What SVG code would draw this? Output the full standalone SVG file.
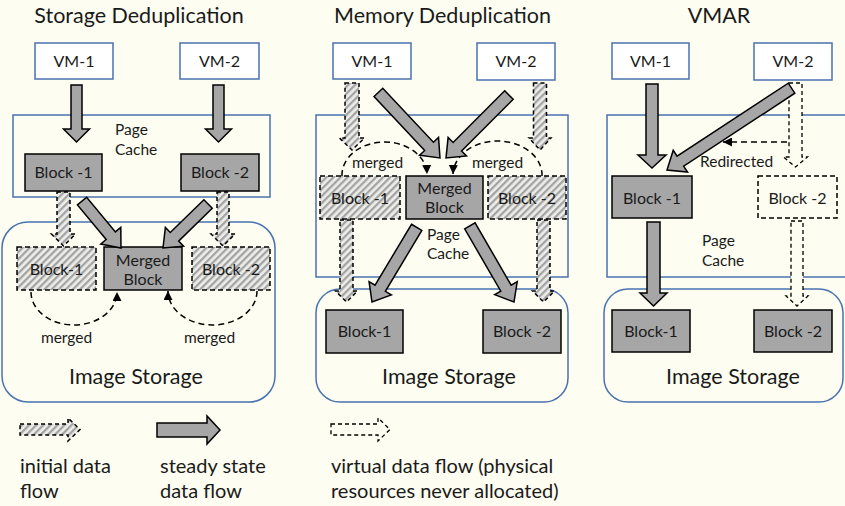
<svg xmlns="http://www.w3.org/2000/svg" width="845" height="506" viewBox="0 0 845 506">
<defs>
<pattern id="hatch" patternUnits="userSpaceOnUse" width="5" height="5" patternTransform="rotate(45)">
<rect width="5" height="5" fill="#EDEDEA"/>
<line x1="1.2" y1="0" x2="1.2" y2="5" stroke="#A0A0A0" stroke-width="2.2"/>
</pattern>
<marker id="ah" viewBox="0 0 10 10" refX="10" refY="5" markerWidth="9" markerHeight="9" markerUnits="userSpaceOnUse" orient="auto">
<path d="M0,0 L10,5 L0,10 Z" fill="#000"/>
</marker>
</defs>
<style>
text{font-family:Lato,"Open Sans","Liberation Sans",sans-serif;fill:#1a1a1a}
.title{font-size:21.5px;text-anchor:middle}
.big{font-size:21.5px;text-anchor:middle}
.lbl{font-size:16px;text-anchor:middle}
.sm{font-size:15.5px}
.mid{text-anchor:middle}
.leg{font-size:20px}
.vm{fill:#fff;stroke:#4A72B0;stroke-width:1.5}
.pc{fill:none;stroke:#4A72B0;stroke-width:1.5}
.is{fill:none;stroke:#4A72B0;stroke-width:1.5}
.blk{fill:#A6A6A6;stroke:#000;stroke-width:1.5}
.hblk{fill:url(#hatch);stroke:#000;stroke-width:1.5;stroke-dasharray:5 3}
.vblk{fill:none;stroke:#000;stroke-width:1.5;stroke-dasharray:5 3}
.sa{fill:#A6A6A6;stroke:#000;stroke-width:1.5;stroke-linejoin:miter}
.ha{fill:url(#hatch);stroke:#000;stroke-width:1.5;stroke-dasharray:4 3}
.va{fill:#FDFDF1;stroke:#000;stroke-width:1.3;stroke-dasharray:4 3}
.arc{fill:none;stroke:#000;stroke-width:1.5;stroke-dasharray:6 4}
</style>
<rect width="845" height="506" fill="#FDFDF1"/>

<!-- Titles -->
<text class="title" x="139" y="23">Storage Deduplication</text>
<text class="title" x="442.5" y="23">Memory Deduplication</text>
<text class="title" x="719" y="23">VMAR</text>

<!-- Panel 1 containers -->
<g id="p1-pagecache"><rect class="pc" x="13" y="115" width="257" height="82"/><text class="sm" x="115" y="135">Page</text><text class="sm" x="115" y="155">Cache</text></g>
<g id="p1-storage"><rect class="is" x="2" y="222" width="273" height="180" rx="26"/><text class="big" x="136" y="384">Image Storage</text></g>
<g id="p1-vm1"><rect class="vm" x="35" y="43" width="78" height="36"/><text class="lbl" x="74" y="67">VM-1</text></g>
<g id="p1-vm2"><rect class="vm" x="180" y="43" width="79" height="36"/><text class="lbl" x="219.5" y="67">VM-2</text></g>
<g id="p1-block1"><rect class="blk" x="25" y="154" width="77" height="37"/><text class="lbl" x="63.5" y="178">Block -1</text></g>
<g id="p1-block2"><rect class="blk" x="181" y="154" width="78" height="37"/><text class="lbl" x="220" y="178">Block -2</text></g>
<g id="p1-sblock1"><rect class="hblk" x="17" y="247" width="79" height="43"/><text class="lbl" x="56.5" y="275">Block-1</text></g>
<g id="p1-merged"><rect class="blk" x="104" y="247" width="78" height="43"/><text class="lbl" x="143" y="266">Merged</text><text class="lbl" x="143" y="285">Block</text></g>
<g id="p1-sblock2"><rect class="hblk" x="192" y="247" width="78" height="43"/><text class="lbl" x="231" y="275">Block -2</text></g>

<!-- Panel 2 containers -->
<g id="p2-pagecache"><rect class="pc" x="316" y="115" width="252" height="162"/><text class="sm" x="427" y="240">Page</text><text class="sm" x="427" y="259">Cache</text></g>
<g id="p2-storage"><rect class="is" x="316" y="289" width="252" height="113" rx="24"/><text class="big" x="449" y="384">Image Storage</text></g>
<g id="p2-vm1"><rect class="vm" x="333" y="43" width="78" height="36"/><text class="lbl" x="372" y="67">VM-1</text></g>
<g id="p2-vm2"><rect class="vm" x="477" y="43" width="78" height="37"/><text class="lbl" x="516" y="67">VM-2</text></g>
<g id="p2-hblock1"><rect class="hblk" x="320" y="176" width="80" height="43"/><text class="lbl" x="360" y="204">Block -1</text></g>
<g id="p2-merged"><rect class="blk" x="406" y="176" width="77" height="43"/><text class="lbl" x="444.5" y="194">Merged</text><text class="lbl" x="444.5" y="213">Block</text></g>
<g id="p2-hblock2"><rect class="hblk" x="488" y="176" width="78" height="43"/><text class="lbl" x="527" y="204">Block -2</text></g>
<g id="p2-sblock1"><rect class="blk" x="326" y="310" width="77" height="43"/><text class="lbl" x="364.5" y="337">Block-1</text></g>
<g id="p2-sblock2"><rect class="blk" x="483" y="310" width="78" height="43"/><text class="lbl" x="522" y="337">Block -2</text></g>

<!-- Panel 3 containers -->
<g id="p3-pagecache"><rect class="pc" x="607" y="115" width="245" height="162"/><text class="sm" x="702" y="246">Page</text><text class="sm" x="702" y="266">Cache</text></g>
<g id="p3-storage"><rect class="is" x="604" y="289" width="239" height="113" rx="24"/><text class="big" x="733" y="384">Image Storage</text></g>
<g id="p3-vm1"><rect class="vm" x="612" y="43" width="77" height="36"/><text class="lbl" x="650.5" y="67">VM-1</text></g>
<g id="p3-vm2"><rect class="vm" x="754" y="43" width="78" height="37"/><text class="lbl" x="793" y="67">VM-2</text></g>
<g id="p3-block1"><rect class="blk" x="612" y="176" width="80" height="42"/><text class="lbl" x="652" y="204">Block -1</text></g>
<g id="p3-block2"><rect class="vblk" x="758" y="176" width="79" height="42"/><text class="lbl" x="797.5" y="204">Block -2</text></g>
<g id="p3-sblock1"><rect class="blk" x="612" y="310" width="78" height="42"/><text class="lbl" x="651" y="337">Block-1</text></g>
<g id="p3-sblock2"><rect class="blk" x="754" y="310" width="78" height="42"/><text class="lbl" x="793" y="337">Block -2</text></g>

<!-- Connectors -->
<g id="connectors">
<!-- Panel 1 -->
<path class="sa" d="M71,85 H82 V129 H89.5 L76.5,142 L63.5,129 H71 Z"/>
<path class="sa" d="M213,85 H224 V129 H231.5 L218.5,142 L205.5,129 H213 Z"/>
<path class="ha" d="M57,192 H70 V234 H75.5 L63.5,246 L51.5,234 H57 Z"/>
<path class="ha" d="M217,192 H229 V234 H235 L223,246 L211,234 H217 Z"/>
<path class="sa" d="M-6,-61 H6 V-16 H13 L0,0 L-13,-16 H-6 Z" transform="translate(121,248) rotate(-39.7)"/>
<path class="sa" d="M-6,-63 H6 V-16 H13 L0,0 L-13,-16 H-6 Z" transform="translate(163,248) rotate(45.7)"/>
<path class="arc" d="M31,292 A43,33 0 0 0 117,292" marker-end="url(#ah)"/>
<path class="arc" d="M257,291 A44.5,34 0 0 1 168,291" marker-end="url(#ah)"/>
<text class="sm mid" x="66.5" y="343">merged</text>
<text class="sm mid" x="209.5" y="343">merged</text>

<!-- Panel 2 -->
<path class="ha" d="M345,83 H359 V138 H364.5 L352,150 L339.5,138 H345 Z"/>
<path class="ha" d="M533.5,83 H546.5 V138 H551 L540,150 L529,138 H533.5 Z"/>
<path class="ha" d="M340,220 H353 V291 H357.5 L346.5,302 L335.5,291 H340 Z"/>
<path class="ha" d="M537,220 H550 V291 H554.5 L543.5,302 L532.5,291 H537 Z"/>
<path class="arc" d="M342,176 A42.5,33 0 0 1 427,174" marker-end="url(#ah)"/>
<path class="arc" d="M542,176 A44.5,34 0 0 0 453,174" marker-end="url(#ah)"/>
<path class="sa" d="M-6,-90 H6 V-16 H13 L0,0 L-13,-16 H-6 Z" transform="translate(440,158) rotate(-43.2)"/>
<path class="sa" d="M-6,-89 H6 V-16 H13 L0,0 L-13,-16 H-6 Z" transform="translate(446,158) rotate(45)"/>
<path class="sa" d="M-6,-87 H6 V-16 H13 L0,0 L-13,-16 H-6 Z" transform="translate(372,302) rotate(30.9)"/>
<path class="sa" d="M-6,-88 H6 V-16 H13 L0,0 L-13,-16 H-6 Z" transform="translate(514,302) rotate(-30.1)"/>
<text class="sm mid" x="377.5" y="168">merged</text>
<text class="sm mid" x="497.5" y="168">merged</text>

<!-- Panel 3 -->
<path class="sa" d="M646,84 H658 V155 H666 L652,168 L638,155 H646 Z"/>
<path class="sa" d="M647,222 H660 V293 H667 L653.5,306 L640,293 H647 Z"/>
<path class="va" d="M789,83 H802 V157 H807.5 L795.5,167 L783.5,157 H789 Z"/>
<path class="va" d="M791,221 H803 V296 H808 L797,306 L786,296 H791 Z"/>
<path class="arc" d="M787,142 H723" marker-end="url(#ah)"/>
<path class="sa" d="M-6,-149 H6 V-16 H13 L0,0 L-13,-16 H-6 Z" transform="translate(667,170) rotate(56.7)"/>
<text class="sm" x="700" y="167">Redirected</text>
</g>

<!-- Legend -->
<g id="legend">
<path class="ha" d="M20,424 H68 V418 L80,429.5 L68,441 V435 H20 Z"/>
<path class="sa" d="M157,423 H207 V416 L220,430 L207,444 V437 H157 Z"/>
<path class="va" d="M331,424 H378 V418 L390,429.5 L378,441 V435 H331 Z"/>
<text class="leg" x="20" y="473">initial data</text>
<text class="leg" x="20" y="498">flow</text>
<text class="leg" x="160" y="473">steady state</text>
<text class="leg" x="160" y="498">data flow</text>
<text class="leg" x="331" y="473">virtual data flow (physical</text>
<text class="leg" x="331" y="498">resources never allocated)</text>
</g>
</svg>
